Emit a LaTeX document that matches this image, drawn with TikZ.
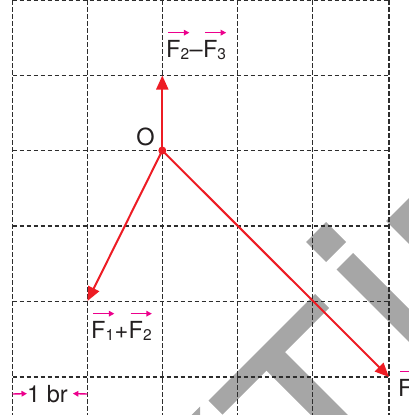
\documentclass[tikz,border=0pt]{standalone}
\usepackage{fontspec}
\setmainfont{TeX Gyre Heros}
\usetikzlibrary{arrows.meta,calc}
\definecolor{vred}{RGB}{237,28,36}
\definecolor{vmag}{RGB}{236,0,140}
\definecolor{wm}{RGB}{166,166,166}
\definecolor{txt}{RGB}{35,31,32}
\definecolor{gridc}{RGB}{45,45,45}
\newcommand\Fs[1]{F\raisebox{-2.8pt}{\fontsize{15.5}{15.5}\selectfont #1}}
\begin{document}
\begin{tikzpicture}[x=1pt,y=-1pt,
  gridline/.style={gridc,line width=1.2pt,dash pattern=on 4.5pt off 2.5pt},
  vec/.style={vred,line width=2pt,-{Triangle[length=14pt,width=12pt]}},
  marr/.style={vmag,line width=1.4pt,-{Triangle[length=5.5pt,width=5.5pt]}},
  lbl/.style={inner sep=0pt,anchor=base west,text=txt,font=\fontsize{23.5}{26}\selectfont},
  wmark/.style={fill=wm,draw=none}]
\useasboundingbox (0,0) rectangle (409,415);
% watermark
\fill[wmark] (315,294) -- (329,308) -- (222.5,414.5) -- (208.5,400.5) -- cycle;
\fill[wmark] (281.5,348.5) -- (366.5,433.5) -- (348,452) -- (263,367) -- cycle;
\fill[wmark] (306,242) -- (326,222) -- (346,242) -- (326,262) -- cycle;
\fill[wmark] (353,253) -- (336.5,269.5) -- (433.5,366.5) -- (450,350) -- cycle;
\fill[wmark] (386,221) -- (420,187) -- (460,227) -- (426,261) -- cycle;
\fill[wmark] (191.5,415) -- (200,406.5) -- (200,415) -- cycle;
% grid
\foreach \x in {12.5,87.5,162.5,237.5,312.5,389}
  \draw[gridline] (\x,0) -- (\x,415);
\foreach \y in {0.7,75.5,150.5,226,301.5,377}
  \draw[gridline] (12.5,\y) -- (389,\y);
% vectors
\coordinate (o) at (162.3,150.5);
\coordinate (t1) at (162.3,75.5);
\coordinate (t2) at (87.5,301);
\coordinate (t3) at (389,377);
\draw[vec] (o) -- (t1);
\draw[vec] (o) -- (t2);
\draw[vec] (o) -- (t3);
\fill[vred] (o) circle (4pt);
\node[lbl,anchor=center] (oname) at (145.5,136.5) {O};
% label F2-F3
\node[lbl] (a1) at (166,57) {\Fs{2}};
\node[lbl] (a2) at (a1.base east) {–};
\node[lbl] (a3) at (a2.base east) {\Fs{3}};
\draw[marr] ([xshift=2pt,yshift=7pt]a1.north west) -- ([xshift=0pt,yshift=7pt]a1.north east);
\draw[marr] ([xshift=2pt,yshift=7pt]a3.north west) -- ([xshift=0pt,yshift=7pt]a3.north east);
% label F1+F2
\node[lbl] (b1) at (91,338) {\Fs{1}};
\node[lbl] (b2) at (b1.base east) {+};
\node[lbl] (b3) at (b2.base east) {\Fs{2}};
\draw[marr] ([xshift=2pt,yshift=7pt]b1.north west) -- ([xshift=0pt,yshift=7pt]b1.north east);
\draw[marr] ([xshift=2pt,yshift=7pt]b3.north west) -- ([xshift=0pt,yshift=7pt]b3.north east);
% scale label
\node[lbl] (br) at (27,402) {1 br};
\coordinate (s1) at (12.5,394);
\coordinate (s2) at (87.5,394);
\draw[marr] (s1) -- (br.west);
\draw[marr] (s2) -- ([xshift=5pt]br.east);
% cut label at right
\node[lbl] (d1) at (398,396) {F};
\draw[marr] ([xshift=2pt,yshift=7pt]d1.north west) -- ++(20,0);
\end{tikzpicture}
\end{document}
